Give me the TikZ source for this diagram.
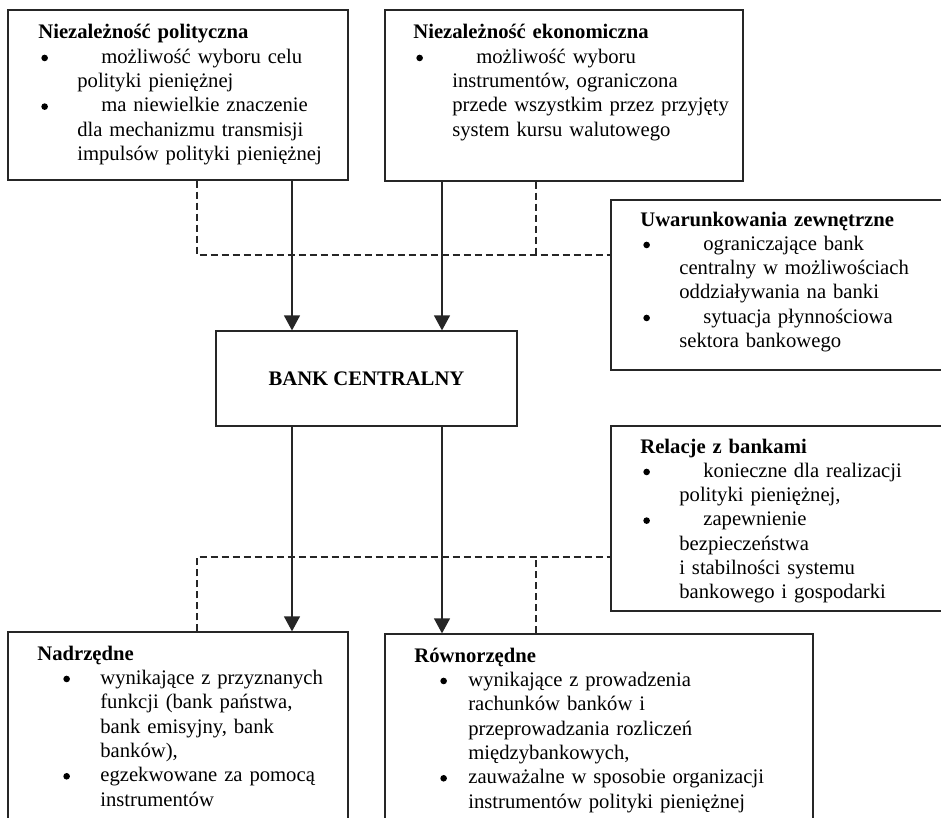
\documentclass[tikz,border=0pt]{standalone}
\usepackage{fontspec}
\setmainfont{Liberation Serif}
\usetikzlibrary{fit,arrows.meta}
\newlength\bulx
\newlength\txtx
\newlength\contx
\newcommand{\kropka}{\tikz[baseline=-0.26em]\fill (0.16em,0) circle (0.16em);}
\newcommand{\pkt}[1]{\hspace*{\bulx}\makebox[\dimexpr\txtx-\bulx\relax][l]{\kropka}#1}
\newcommand{\dal}[1]{\hspace*{\contx}#1}

\begin{document}
\begin{tikzpicture}[x=0.6pt, y=-0.6pt]
	\tikzstyle{box}=[rectangle, draw=black!85, line width=0.75pt, inner sep=0pt]
	\tikzstyle{connect}=[-{Triangle[length=9pt, width=9.6pt]}, line width=0.75pt, draw=black!85]
	\tikzstyle{dashlink}=[dash pattern=on 4.2pt off 2.4pt, line width=0.75pt, draw=black!85]
	\tikzstyle{txt}=[anchor=base west, inner sep=0pt, text width=260pt, align=left, font=\fontsize{12.4}{14.6}\selectfont]
	\tikzstyle{upper}=[txt, execute at begin node={\setlength\bulx{1.8pt}\setlength\txtx{37.8pt}\setlength\contx{23.4pt}}]
	\tikzstyle{lowerA}=[txt, execute at begin node={\setlength\bulx{15.6pt}\setlength\txtx{37.8pt}\setlength\contx{37.8pt}}]
	\tikzstyle{lowerB}=[txt, execute at begin node={\setlength\bulx{15.6pt}\setlength\txtx{32.4pt}\setlength\contx{32.4pt}}]
	\useasboundingbox (0,0) rectangle (941,818);

	  \node[box, fit={(8,10) (348,180)}] (polit) {};
	  \node[upper] (polit-txt) at (38,39) {\textbf{Niezależność polityczna}\\
	    \pkt{możliwość wyboru celu}\\
	    \dal{polityki pieniężnej}\\
	    \pkt{ma niewielkie znaczenie}\\
	    \dal{dla mechanizmu transmisji}\\
	    \dal{impulsów polityki pieniężnej}};
	  \node[box, fit={(385,10) (743,181)}] (ekon) {};
	  \node[upper] (ekon-txt) at (413,39) {\textbf{Niezależność ekonomiczna}\\
	    \pkt{możliwość wyboru}\\
	    \dal{instrumentów, ograniczona}\\
	    \dal{przede wszystkim przez przyjęty}\\
	    \dal{system kursu walutowego}};
	  \node[box, fit={(611,200) (945,370)}] (uwar) {};
	  \node[upper] (uwar-txt) at (640,226) {\textbf{Uwarunkowania zewnętrzne}\\
	    \pkt{ograniczające bank}\\
	    \dal{centralny w możliwościach}\\
	    \dal{oddziaływania na banki}\\
	    \pkt{sytuacja płynnościowa}\\
	    \dal{sektora bankowego}};
	  \node[box, minimum width=180.6pt, minimum height=57pt, font=\fontsize{12.4}{14.6}\selectfont\bfseries] (bank) at (366.5,378.5) {BANK CENTRALNY};
	  \node[box, fit={(611,426) (945,611)}] (relac) {};
	  \node[upper] (relac-txt) at (640,453) {\textbf{Relacje z bankami}\\
	    \pkt{konieczne dla realizacji}\\
	    \dal{polityki pieniężnej,}\\
	    \pkt{zapewnienie}\\
	    \dal{bezpieczeństwa}\\
	    \dal{i stabilności systemu}\\
	    \dal{bankowego i gospodarki}};
	  \node[box, fit={(8,632) (348,830)}] (nadrz) {};
	  \node[lowerA] (nadrz-txt) at (37,660) {\textbf{Nadrzędne}\\
	    \pkt{wynikające z przyznanych}\\
	    \dal{funkcji (bank państwa,}\\
	    \dal{bank emisyjny, bank}\\
	    \dal{banków),}\\
	    \pkt{egzekwowane za pomocą}\\
	    \dal{instrumentów}};
	  \node[box, fit={(385,634) (813,830)}] (rowno) {};
	  \node[lowerB] (rowno-txt) at (414,662) {\textbf{Równorzędne}\\
	    \pkt{wynikające z prowadzenia}\\
	    \dal{rachunków banków i}\\
	    \dal{przeprowadzania rozliczeń}\\
	    \dal{międzybankowych,}\\
	    \pkt{zauważalne w sposobie organizacji}\\
	    \dal{instrumentów polityki pieniężnej}};

	  \coordinate (a1) at (292,0);
	  \coordinate (a2) at (442,0);
	  \coordinate (b1) at (536,0);
	  \coordinate (d1) at (197,255);
	  \coordinate (d2) at (197,557);

	  \path (a1 |- polit.south) edge [connect] (a1 |- bank.north)
			(a2 |- ekon.south) edge [connect] (a2 |- bank.north)
			(a1 |- bank.south) edge [connect] (a1 |- nadrz.north)
			(a2 |- bank.south) edge [connect] (a2 |- rowno.north);

	  \draw[dashlink] (d1 |- polit.south) -- (d1) -- (d1 -| uwar.west);
	  \draw[dashlink] (b1 |- ekon.south) -- (b1 |- d1);
	  \draw[dashlink] (d2 |- nadrz.north) -- (d2) -- (d2 -| relac.west);
	  \draw[dashlink] (b1 |- rowno.north) -- (b1 |- d2);

	\end{tikzpicture}
\end{document}
